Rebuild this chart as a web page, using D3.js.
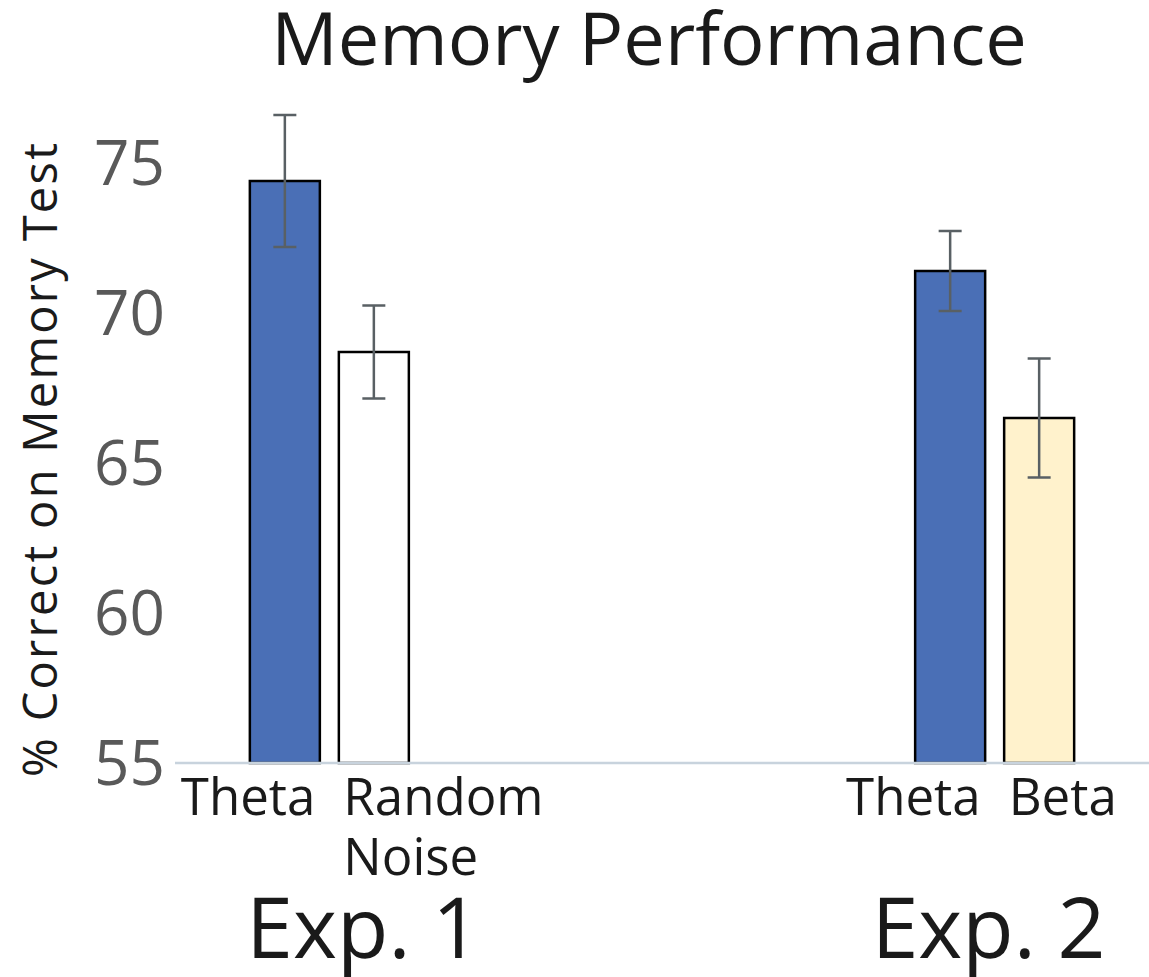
<!DOCTYPE html>
<html lang="en">
<head>
    <meta charset="UTF-8">
    <title>Memory Performance</title>
    <script src="https://cdnjs.cloudflare.com/ajax/libs/d3/7.8.5/d3.min.js"></script>
    <style>
        body { margin: 0; background: #fff; }
        text { font-family: "Open Sans", "Noto Sans", sans-serif; }
        .bar { stroke: #000; stroke-width: 2.5px; }
        .err { stroke: #596064; stroke-width: 2.5px; fill: none; }
        .tick-label { fill: #595959; font-size: 62px; }
        .x-label { fill: #1a1a1a; font-size: 51px; }
        .group-label { fill: #1a1a1a; font-size: 84px; }
    </style>
</head>
<body>
<div class="chart"></div>
<script>
    // data
    var groups = ["Exp. 1", "Exp. 2"];
    var barGroup = ["Exp. 1", "Exp. 1", "Exp. 2", "Exp. 2"];
    var barCondition = ["Theta", "Random Noise", "Theta", "Beta"];
    var barLabelLines = [["Theta"], ["Random", "Noise"], ["Theta"], ["Beta"]];
    var means = [74.4, 68.7, 71.4, 66.5];
    var errors = [2.2, 1.55, 1.33, 1.98];
    var yTicks = [55, 60, 65, 70, 75];

    var width = 1149, height = 977;

    var svg = d3.select(".chart").append("svg")
        .attr("width", width)
        .attr("height", height);

    var x0 = d3.scalePoint()
        .domain(groups)
        .range([175, width])
        .padding(0.232);

    var x1 = d3.scaleBand()
        .domain([0, 1])
        .range([-79.5, 79.5])
        .paddingInner(0.2135);

    var y = d3.scaleLinear()
        .domain([55, 75])
        .range([763, 163]);

    var color = d3.scaleOrdinal()
        .domain(["Theta", "Random Noise", "Beta"])
        .range(["#4a6fb6", "#ffffff", "#fff2cc"]);

    var bars = barGroup.map(function(g, i) {
        // index inside its group
        var pos = barGroup.slice(0, i).filter(function(d) { return d == g; }).length;
        return {
            group: g,
            pos: pos,
            condition: barCondition[i],
            lines: barLabelLines[i],
            mean: means[i],
            err: errors[i]
        };
    });

    function barX(d) { return x0(d.group) + x1(d.pos); }
    function barMid(d) { return barX(d) + x1.bandwidth() / 2; }

    // title
    svg.append("text")
        .attr("x", 649)
        .attr("y", 65)
        .attr("text-anchor", "middle")
        .style("font-size", "74px")
        .style("fill", "#1a1a1a")
        .text("Memory Performance");

    // y axis title
    svg.append("text")
        .attr("transform", "translate(57,460) rotate(-90)")
        .attr("text-anchor", "middle")
        .attr("textLength", 634)
        .attr("lengthAdjust", "spacing")
        .style("font-size", "47px")
        .style("fill", "#1a1a1a")
        .text("% Correct on Memory Test");

    // y tick labels, no ticks
    svg.selectAll(".tick-label")
        .data(yTicks)
        .enter()
        .append("text")
        .attr("class", "tick-label")
        .attr("x", 165)
        .attr("y", function(d) { return y(d); })
        .attr("dy", "0.36em")
        .attr("text-anchor", "end")
        .text(function(d) { return d; });

    // bars
    svg.selectAll(".bar")
        .data(bars)
        .enter()
        .append("rect")
        .attr("class", "bar")
        .attr("x", barX)
        .attr("width", x1.bandwidth())
        .attr("y", function(d) { return y(d.mean); })
        .attr("height", function(d) { return y(55) - y(d.mean); })
        .attr("fill", function(d) { return color(d.condition); });

    // x axis line
    svg.append("line")
        .attr("x1", 175)
        .attr("x2", width)
        .attr("y1", y(55))
        .attr("y2", y(55))
        .attr("stroke", "#c8d3dd")
        .attr("stroke-width", 2.5);

    // error bars
    var capW = 11.5;
    var err = svg.selectAll(".err")
        .data(bars)
        .enter()
        .append("path")
        .attr("class", "err")
        .attr("d", function(d) {
            var cx = barMid(d), hi = y(d.mean + d.err), lo = y(d.mean - d.err);
            return "M" + (cx - capW) + "," + hi + "H" + (cx + capW) +
                "M" + cx + "," + hi + "V" + lo +
                "M" + (cx - capW) + "," + lo + "H" + (cx + capW);
        });

    // condition labels, hugging the gap between the pair
    var labels = svg.selectAll(".x-label")
        .data(bars)
        .enter()
        .append("text")
        .attr("class", "x-label")
        .attr("text-anchor", function(d) { return d.pos == 0 ? "end" : "start"; })
        .attr("x", function(d) { return x0(d.group) + (d.pos == 0 ? -14 : 14); })
        .attr("y", 815);

    labels.selectAll("tspan")
        .data(function(d) { return d.lines; })
        .enter()
        .append("tspan")
        .attr("x", function() { return d3.select(this.parentNode).attr("x"); })
        .attr("dy", function(d, i) { return i == 0 ? 0 : 60; })
        .text(function(d) { return d; });

    // group labels
    var groupShift = [34, -6];
    svg.selectAll(".group-label")
        .data(groups)
        .enter()
        .append("text")
        .attr("class", "group-label")
        .attr("x", function(d, i) { return x0(d) + groupShift[i]; })
        .attr("y", 958)
        .attr("text-anchor", "middle")
        .text(function(d) { return d; });
</script>
</body>
</html>
